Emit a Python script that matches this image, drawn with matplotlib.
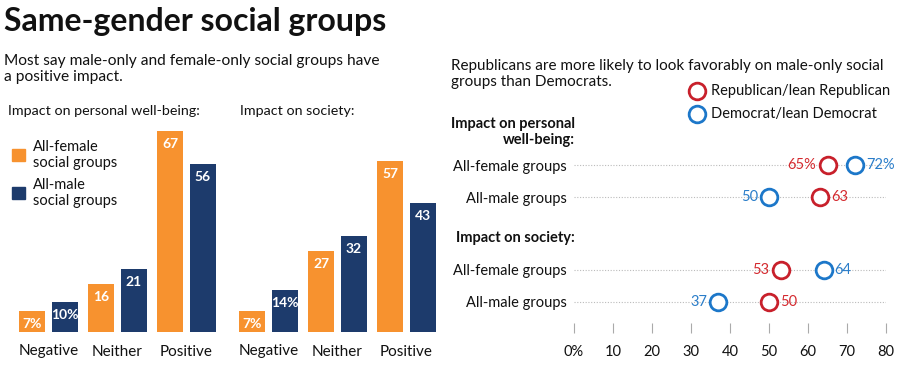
import matplotlib.pyplot as plt
from matplotlib.patches import Rectangle
from matplotlib.lines import Line2D

plt.rcParams['font.family'] = ['Lato', 'DejaVu Sans']

W, H = 900, 377

# data
categories = ["Negative", "Neither", "Positive"]
wellbeing_female = [7, 16, 67]
wellbeing_male = [10, 21, 56]
society_female = [7, 27, 57]
society_male = [14, 32, 43]

row_labels = ["All-female groups", "All-male groups", "All-female groups", "All-male groups"]
rep_values = [65, 63, 53, 50]
dem_values = [72, 50, 64, 37]
x_ticks = [0, 10, 20, 30, 40, 50, 60, 70, 80]

ORANGE = "#F7922F"
NAVY = "#1D3B6C"
RED = "#C8202B"
BLUE = "#1C77C9"
RED_TXT = "#D42A2F"
BLUE_TXT = "#2A7DC9"


def fx(x):
    return x / W


def fy(y):
    return 1 - y / H


def add_ax(left, top, width, height):
    return fig.add_axes([left / W, 1 - (top + height) / H, width / W, height / H])


fig = plt.figure(figsize=(W / 100, H / 100), dpi=100)

# titles
fig.text(fx(4), fy(21), "Same-gender social groups", fontsize=23, fontweight='bold',
         va='center', ha='left', color='#111111')
fig.text(fx(4), fy(69), "Most say male-only and female-only social groups have\na positive impact.",
         fontsize=11.2, va='center', ha='left', linespacing=1.15, color='#111111')
fig.text(fx(8), fy(111), "Impact on personal well-being:", fontsize=10.3, va='center', color='#111111')
fig.text(fx(240), fy(111), "Impact on society:", fontsize=10.3, va='center', color='#111111')
fig.text(fx(451), fy(66), "Republicans are more likely to look favorably on male-only social",
         fontsize=11.0, va='center', ha='left', color='#111111')
fig.text(fx(451), fy(82), "groups than Democrats.",
         fontsize=11.0, va='center', ha='left', color='#111111')


def bar_chart(left, female, male):
    ax = add_ax(left, 122, 207, 210)
    xs = range(len(categories))
    off, bw = 0.232, 0.377
    for vals, sign, color in [(female, -1, ORANGE), (male, 1, NAVY)]:
        pos = [x + sign * off for x in xs]
        ax.bar(pos, vals, width=bw, color=color)
        for i, (p, v) in enumerate(zip(pos, vals)):
            lab = f"{v}%" if i == 0 else f"{v}"
            ax.annotate(lab, (p, v), xytext=(0, -5), textcoords='offset points',
                        ha='center', va='top', color='white', fontsize=10, fontweight='bold')
    ax.set_xlim(-0.5, 2.5)
    ax.set_ylim(0, 70)
    ax.set_xticks(list(xs))
    ax.set_xticklabels(categories, fontsize=11, color='#111111')
    ax.tick_params(axis='x', length=0, pad=9)
    ax.set_yticks([])
    for s in ax.spines.values():
        s.set_visible(False)
    ax.patch.set_alpha(0)
    return ax


bar_chart(14, wellbeing_female, wellbeing_male)
bar_chart(234, society_female, society_male)

# legend for bars
fig.patches.append(Rectangle((fx(12), fy(161)), 13 / W, 12 / H, color=ORANGE, transform=fig.transFigure))
fig.patches.append(Rectangle((fx(12), fy(199)), 13 / W, 12 / H, color=NAVY, transform=fig.transFigure))
fig.text(fx(33), fy(155), "All-female\nsocial groups", fontsize=10.5, va='center', linespacing=1.1, color='#111111')
fig.text(fx(33), fy(193), "All-male\nsocial groups", fontsize=10.5, va='center', linespacing=1.1, color='#111111')

# dot plot
row_pos = [0, 1, 3.28, 4.28]
ax = add_ax(574, 150, 312, 173)
ax.set_xlim(0, 80)
ax.set_ylim(4.94, -0.47)
for y in row_pos:
    ax.axhline(y, color='#BBBBBB', lw=0.8, ls=(0, (1, 1.5)), zorder=1)
ms, mew = 12, 2
for i, y in enumerate(row_pos):
    r, d = rep_values[i], dem_values[i]
    ax.plot(r, y, 'o', ms=ms, mfc='white', mec=RED, mew=mew, zorder=3, clip_on=False)
    ax.plot(d, y, 'o', ms=ms, mfc='white', mec=BLUE, mew=mew, zorder=3, clip_on=False)
    pct = "%" if i == 0 else ""
    lo_col, hi_col = (RED_TXT, BLUE_TXT) if r < d else (BLUE_TXT, RED_TXT)
    lo, hi = min(r, d), max(r, d)
    ax.annotate(f"{lo}{pct}", (lo, y), xytext=(-8, 0), textcoords='offset points',
                ha='right', va='center', color=lo_col, fontsize=10.5)
    ax.annotate(f"{hi}{pct}", (hi, y), xytext=(8, 0), textcoords='offset points',
                ha='left', va='center', color=hi_col, fontsize=10.5)
ax.set_yticks(row_pos)
ax.set_yticklabels(row_labels, fontsize=10.5, color='#111111')
ax.tick_params(axis='y', length=0, pad=5)
ax.set_xticks(x_ticks)
ax.set_xticklabels([f"{t}%" if t == 0 else str(t) for t in x_ticks], fontsize=10.5, color='#111111')
ax.tick_params(axis='x', length=7, color='#AAAAAA', width=0.8, pad=9)
for s in ax.spines.values():
    s.set_visible(False)
ax.patch.set_alpha(0)

fig.text(fx(575), fy(132), "Impact on personal\nwell-being:", fontsize=10.5, fontweight='bold',
         ha='right', va='center', linespacing=1.15, color='#111111')
fig.text(fx(456), fy(238), "Impact on society:", fontsize=10.5, fontweight='bold',
         ha='left', va='center', color='#111111')

# party legend
fig.add_artist(Line2D([fx(697)], [fy(91)], marker='o', ms=ms, mfc='white', mec=RED, mew=mew,
                      transform=fig.transFigure))
fig.add_artist(Line2D([fx(697)], [fy(114)], marker='o', ms=ms, mfc='white', mec=BLUE, mew=mew,
                      transform=fig.transFigure))
fig.text(fx(711), fy(91), "Republican/lean Republican", fontsize=10.5, va='center', color='#111111')
fig.text(fx(711), fy(114), "Democrat/lean Democrat", fontsize=10.5, va='center', color='#111111')

fig.savefig("out.png", dpi=100)
